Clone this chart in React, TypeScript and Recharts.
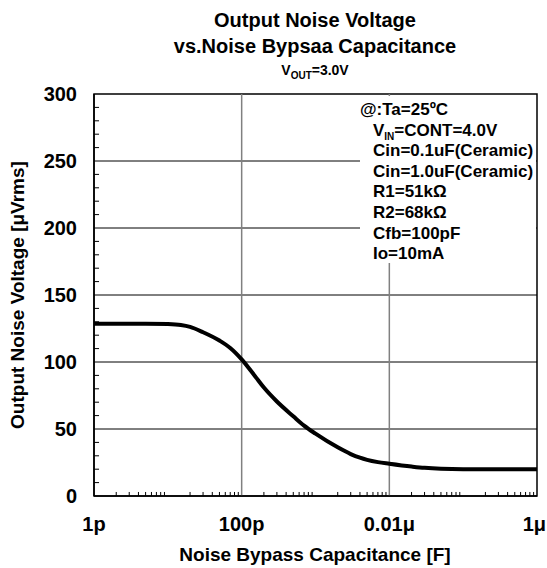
import { LineChart, Line, XAxis, YAxis, ReferenceLine, ReferenceArea } from 'recharts'

// capacitance [F] vs output noise [µVrms]
const capacitance = [
  1e-12, 2e-12, 5e-12, 1e-11, 1.5e-11, 2e-11, 3e-11, 5e-11, 7e-11, 1e-10, 1.5e-10, 2e-10, 3e-10, 5e-10, 7e-10,
  1e-9, 2e-9, 3e-9, 4e-9, 5e-9, 7e-9, 1e-8, 2e-8, 3e-8, 5e-8, 1e-7, 1e-6,
]
const noise = [
  128.5, 128.5, 128.6, 128.3, 127.6, 126.2, 122.2, 116, 110.5, 102, 89.8, 80.9, 70.5, 59.5, 52.5,
  46.5, 36.3, 31.3, 28.6, 27, 25.3, 24.1, 22, 21, 20.3, 20, 20,
]

const xMajor = [1e-12, 1e-10, 1e-8, 1e-6]
const xLabels = ['1p', '100p', '0.01μ', '1μ']
const xGrid = [1e-10, 1e-8]
const yGrid = [50, 100, 150, 200, 250]
const yMajor = [0, 50, 100, 150, 200, 250, 300]
const yLabels = ['0', '50', '100', '150', '200', '250', '300']

const conditions = [
  '@:Ta=25ºC',
  'VIN=CONT=4.0V',
  'Cin=0.1uF(Ceramic)',
  'Cin=1.0uF(Ceramic)',
  'R1=51kΩ',
  'R2=68kΩ',
  'Cfb=100pF',
  'Io=10mA',
]

const data = capacitance.map((c, i) => ({ c, v: noise[i] }))

// minor ticks: 2..9 in every decade, every 10 on the y axis
const xMinor: number[] = []
for (let e = -12; e < -6; e++) {
  for (let m = 2; m <= 9; m++) xMinor.push(m * Math.pow(10, e))
}
const yMinor: number[] = []
for (let v = 10; v < 300; v += 10) if (v % 50) yMinor.push(v)

const X_MIN = 1e-12
const X_MAX = 1e-6
const X_TICK_END = 1.17e-12 // ~5px into the plot on the log axis
const Y_TICK_END = 3 // ~4px above the x axis

const FONT = '"Liberation Sans", Arial, sans-serif'

function XTick(props: any) {
  const { x, y, payload } = props
  const idx = xMajor.indexOf(payload.value)
  if (idx < 0) return null
  const last = idx === xLabels.length - 1
  return (
    <text
      x={last ? x + 9 : x}
      y={y + 35}
      textAnchor={last ? 'end' : 'middle'}
      fontSize={20}
      fontWeight="bold"
      fill="#000"
      fontFamily={FONT}
    >
      {xLabels[idx]}
    </text>
  )
}

function YTick(props: any) {
  const { x, y, payload } = props
  const idx = yMajor.indexOf(payload.value)
  if (idx < 0) return null
  return (
    <text x={x - 17} y={y} dy="0.36em" textAnchor="end" fontSize={20} fontWeight="bold" fill="#000" fontFamily={FONT}>
      {yLabels[idx]}
    </text>
  )
}

export default function App() {
  return (
    <div style={{ position: 'absolute', left: 0, top: 0, width: 547, height: 568, background: '#fff', fontFamily: FONT, color: '#000' }}>
      <LineChart width={547} height={568} data={data} margin={{ top: 94, right: 10, bottom: 42, left: 0 }}>
        {yGrid.map((v) => (
          <ReferenceLine key={'h' + v} y={v} stroke="#000" strokeWidth={1} />
        ))}
        {xGrid.map((v) => (
          <ReferenceLine key={'v' + v} x={v} stroke="#808080" strokeWidth={1.5} />
        ))}
        {xMinor.map((v) => (
          <ReferenceLine key={'xm' + v} segment={[{ x: v, y: 0 }, { x: v, y: Y_TICK_END }]} stroke="#000" strokeWidth={1} />
        ))}
        {yMinor.map((v) => (
          <ReferenceLine key={'ym' + v} segment={[{ x: X_MIN, y: v }, { x: X_TICK_END, y: v }]} stroke="#000" strokeWidth={1} />
        ))}
        <ReferenceArea x1={X_MIN} x2={X_MAX} y1={0} y2={300} fill="none" stroke="#000" strokeWidth={1.5} />
        <XAxis
          dataKey="c"
          type="number"
          scale="log"
          domain={[X_MIN, X_MAX]}
          ticks={xMajor}
          interval={0}
          height={30}
          tickSize={0}
          tickMargin={0}
          tick={<XTick />}
          axisLine={{ stroke: '#000', strokeWidth: 1.5 }}
          tickLine={false}
          allowDataOverflow
        />
        <YAxis
          type="number"
          domain={[0, 300]}
          ticks={yMajor}
          interval={0}
          width={94}
          tickSize={0}
          tickMargin={0}
          tick={<YTick />}
          axisLine={{ stroke: '#000', strokeWidth: 1.5 }}
          tickLine={false}
        />
        <Line type="monotone" dataKey="v" stroke="#000" strokeWidth={4} dot={false} isAnimationActive={false} />
      </LineChart>

      <div style={{ position: 'absolute', left: 0, width: 630, top: 7, textAlign: 'center', fontSize: 20, fontWeight: 'bold', lineHeight: '26px' }}>
        Output Noise Voltage
        <br />
        vs.Noise Bypsaa Capacitance
      </div>
      <div style={{ position: 'absolute', left: 0, width: 630, top: 61, textAlign: 'center', fontSize: 14, fontWeight: 'bold', lineHeight: '18px' }}>
        V<sub style={{ fontSize: 10 }}>OUT</sub>=3.0V
      </div>

      <div
        style={{
          position: 'absolute', left: 18, top: 295, transform: 'translate(-50%, -50%) rotate(-90deg)',
          whiteSpace: 'nowrap', fontSize: 19, fontWeight: 'bold',
        }}
      >
        Output Noise Voltage [μVrms]
      </div>
      <div style={{ position: 'absolute', left: 0, width: 630, top: 543, textAlign: 'center', fontSize: 19, fontWeight: 'bold', lineHeight: '24px' }}>
        Noise Bypass Capacitance [F]
      </div>

      <div
        style={{
          position: 'absolute', left: 360, top: 96, width: 176, height: 167, background: '#fff',
          fontSize: 17, fontWeight: 'bold', lineHeight: '20.6px', paddingTop: 4, boxSizing: 'border-box', whiteSpace: 'nowrap',
        }}
      >
        {conditions.map((t, i) => (
          <div key={t} style={{ paddingLeft: i === 0 ? 0 : 13 }}>
            {t.startsWith('VIN') ? (
              <>
                V<sub style={{ fontSize: 10, lineHeight: 0 }}>IN</sub>
                {t.slice(3)}
              </>
            ) : (
              t
            )}
          </div>
        ))}
      </div>
    </div>
  )
}
